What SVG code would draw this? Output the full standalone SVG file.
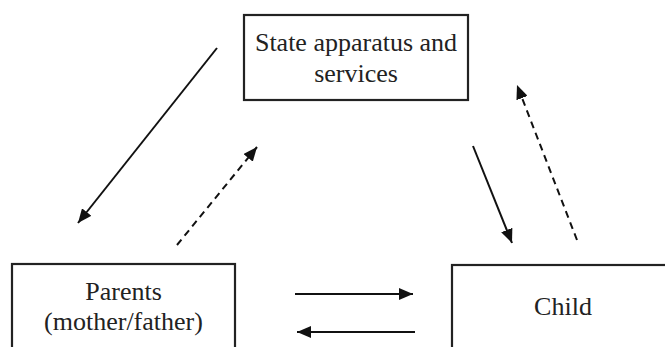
<svg xmlns="http://www.w3.org/2000/svg" width="665" height="347" viewBox="0 0 665 347">
<style>
.box{fill:#fff;stroke:#222;stroke-width:2.2}
.t{font-family:"Liberation Serif","Times New Roman",serif;font-size:26px;fill:#222;text-anchor:middle}
.c{fill:none;stroke:#111;stroke-width:2}
.d{stroke-dasharray:7 5}
</style>
<defs>
<marker id="ah" viewBox="0 0 10 10" refX="9" refY="5" markerWidth="7" markerHeight="7" markerUnits="userSpaceOnUse" orient="auto" overflow="visible">
<path d="M0,0 L10,5 L0,10 Z" fill="#111" transform="scale(1.5) translate(-3.3,-1.65)"/>
</marker>
<marker id="a" viewBox="0 0 14 12" refX="14" refY="6" markerWidth="14" markerHeight="12" markerUnits="userSpaceOnUse" orient="auto">
<path d="M0,0 L14,6 L0,12 Z" fill="#111"/>
</marker>
</defs>
<g id="state">
<rect class="box" x="244" y="15" width="224" height="85"/>
<text class="t" x="356" y="51">State apparatus and</text>
<text class="t" x="356" y="82">services</text>
</g>
<g id="parents">
<rect class="box" x="12" y="264" width="223" height="100"/>
<text class="t" x="123.5" y="300">Parents</text>
<text class="t" x="123.5" y="330">(mother/father)</text>
</g>
<g id="child">
<rect class="box" x="452" y="265" width="230" height="100"/>
<text class="t" x="563" y="315">Child</text>
</g>
<g id="connectors">
<line class="c" x1="217" y1="48" x2="78" y2="223" marker-end="url(#a)"/>
<line class="c d" x1="177" y1="245" x2="257" y2="147" marker-end="url(#a)"/>
<line class="c" x1="473" y1="146" x2="512" y2="243" marker-end="url(#a)"/>
<line class="c d" x1="577" y1="240" x2="517" y2="85" marker-end="url(#a)"/>
<line class="c" x1="295" y1="294" x2="413" y2="294" marker-end="url(#a)"/>
<line class="c" x1="415" y1="332" x2="297" y2="332" marker-end="url(#a)"/>
</g>
</svg>
